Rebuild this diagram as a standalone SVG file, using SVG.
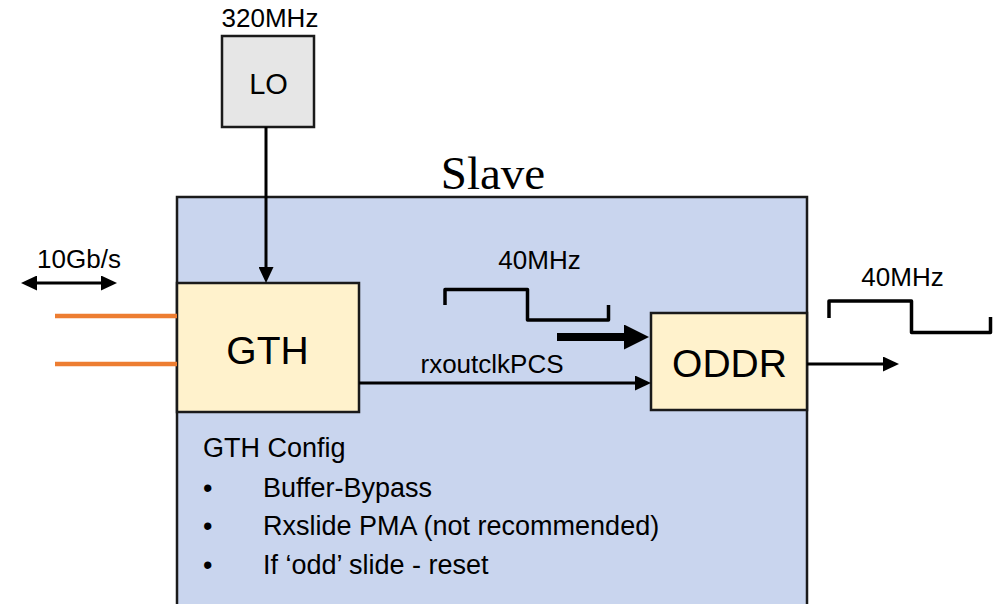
<svg xmlns="http://www.w3.org/2000/svg" width="1004" height="604" viewBox="0 0 1004 604">
<style>
.lbl{font-family:"Liberation Sans",Arial,sans-serif;font-size:26px;fill:#000}
.big{font-family:"Liberation Sans",Arial,sans-serif;font-size:39px;fill:#000;text-anchor:middle}
.cfg{font-family:"Liberation Sans",Arial,sans-serif;font-size:27px;fill:#000}
.title{font-family:"Liberation Serif","Times New Roman",serif;font-size:47px;fill:#000;text-anchor:middle}
.box{stroke:#1a1a1a;stroke-width:2.5}
.wire{stroke:#000;stroke-width:3;fill:none}
.wave{stroke:#000;stroke-width:3.5;fill:none;stroke-linejoin:round}
.fiber{stroke:#ED7D31;stroke-width:4.5}
</style>
<defs>
<marker id="arr" markerUnits="userSpaceOnUse" markerWidth="16" markerHeight="15" refX="6" refY="7.5" orient="auto-start-reverse">
<path d="M0,0 L16,7.5 L0,15 z" fill="#000"/>
</marker>
<marker id="arrBig" markerUnits="userSpaceOnUse" markerWidth="25" markerHeight="25" refX="5" refY="12.5" orient="auto">
<path d="M0,0 L25,12.5 L0,25 z" fill="#000"/>
</marker>
</defs>

<g id="slave">
<rect class="box" x="177" y="197" width="630" height="430" fill="#C9D5EE"/>
<text class="title" x="493" y="189">Slave</text>
<text class="cfg" x="203" y="457">GTH Config</text>
<text class="cfg" x="203" y="497">•</text>
<text class="cfg" x="263" y="497">Buffer-Bypass</text>
<text class="cfg" x="203" y="535">•</text>
<text class="cfg" x="263" y="535">Rxslide PMA (not recommended)</text>
<text class="cfg" x="203" y="574">•</text>
<text class="cfg" x="263" y="574">If ‘odd’ slide - reset</text>
</g>

<g id="lo">
<rect class="box" x="222" y="36" width="92" height="91" fill="#E6E6E6"/>
<text class="big" x="268.5" y="94" style="font-size:29px">LO</text>
<text class="lbl" x="270" y="27" text-anchor="middle">320MHz</text>
</g>

<g id="gth">
<rect class="box" x="177" y="283" width="182" height="129" fill="#FFF2CC"/>
<text class="big" x="267.5" y="364">GTH</text>
</g>

<g id="oddr">
<rect class="box" x="651" y="313" width="156" height="97" fill="#FFF2CC"/>
<text class="big" x="729.5" y="377">ODDR</text>
</g>

<g id="connectors">
<line class="fiber" x1="55" y1="316" x2="177" y2="316"/>
<line class="fiber" x1="55" y1="364" x2="177" y2="364"/>
<line class="wire" x1="31" y1="283" x2="107" y2="283" marker-start="url(#arr)" marker-end="url(#arr)"/>
<text class="lbl" x="79" y="268" text-anchor="middle">10Gb/s</text>
<line class="wire" x1="266" y1="127" x2="266" y2="273" marker-end="url(#arr)"/>
<line class="wire" x1="359" y1="383" x2="641" y2="383" marker-end="url(#arr)"/>
<text class="lbl" x="492" y="373" text-anchor="middle">rxoutclkPCS</text>
<line x1="557" y1="337" x2="629" y2="337" stroke="#000" stroke-width="8" marker-end="url(#arrBig)"/>
<line class="wire" x1="807" y1="364" x2="889" y2="364" marker-end="url(#arr)"/>
<polyline class="wave" points="445,305 445,289.5 527.5,289.5 527.5,320 608.5,320 608.5,305"/>
<text class="lbl" x="539.5" y="269" text-anchor="middle">40MHz</text>
<polyline class="wave" points="829,318 829,301 911.5,301 911.5,332.5 990.5,332.5 990.5,317"/>
<text class="lbl" x="902.5" y="286" text-anchor="middle">40MHz</text>
</g>
</svg>
